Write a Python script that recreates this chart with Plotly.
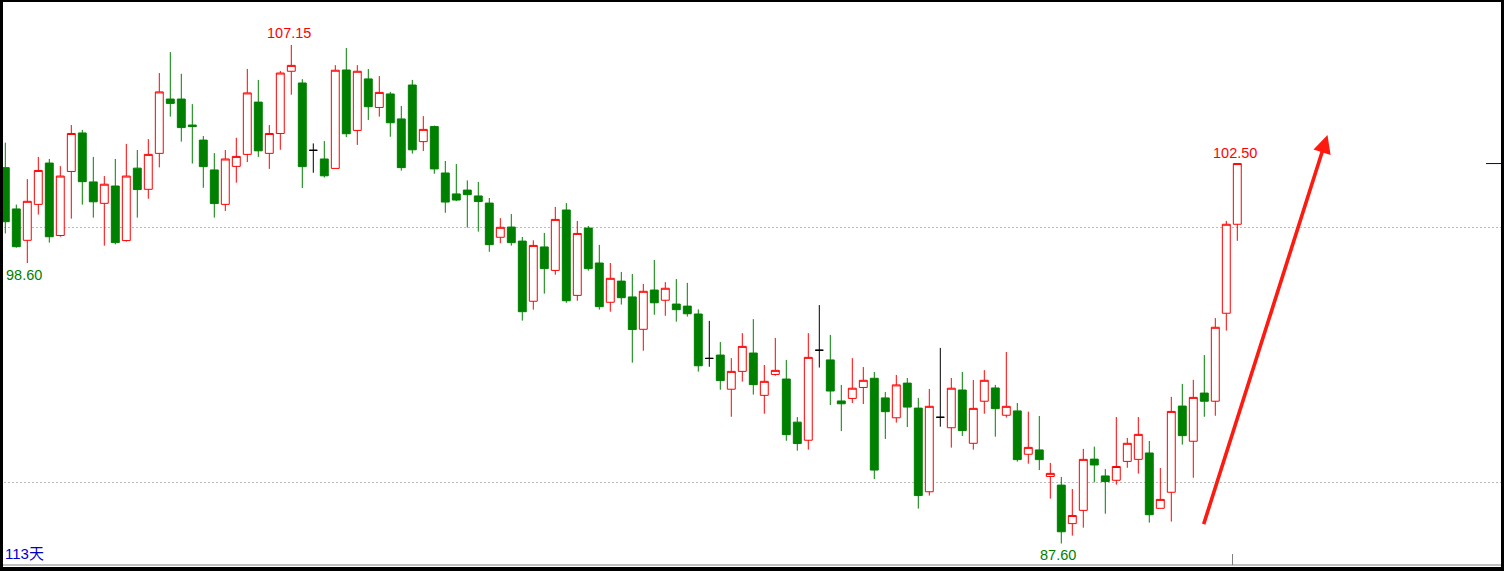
import plotly.graph_objects as go

# ---- data ----
opens = [102.34, 100.72, 99.49, 100.90, 102.52, 99.68, 102.19, 103.70, 101.78, 100.94,
         101.62, 99.48, 102.32, 101.49, 102.90, 105.03, 105.03, 104.01, 103.42, 102.25,
         100.90, 102.39, 102.86, 104.91, 102.90, 103.68, 106.12, 105.66, 103.02, 102.68,
         102.31, 106.17, 103.80, 105.82, 104.70, 105.23, 104.25, 105.58, 103.36, 103.95,
         102.13, 101.31, 101.46, 101.23, 100.95, 99.61, 100.01, 99.46, 97.10, 99.23,
         98.31, 100.68, 97.33, 99.97, 98.60, 97.06, 97.89, 97.27, 96.00, 97.54,
         97.14, 96.99, 96.91, 96.60, 94.86, 94.99, 93.65, 94.35, 95.07, 93.41,
         94.23, 94.05, 92.36, 91.65, 95.18, 94.80, 93.19, 93.29, 93.72, 94.08,
         93.31, 92.53, 93.89, 92.91, 89.63, 92.55, 92.14, 93.62, 91.53, 93.18,
         93.70, 92.63, 92.80, 91.10, 91.27, 90.23, 89.89, 88.38, 88.90, 90.91,
         90.25, 90.08, 90.82, 90.90, 91.15, 88.98, 89.61, 92.99, 91.61, 93.50,
         93.18, 96.63, 100.12]
highs = [103.32, 100.89, 101.89, 102.76, 102.68, 102.40, 104.01, 103.82, 102.76, 102.01,
         102.68, 103.27, 103.03, 103.46, 106.05, 106.87, 106.02, 104.83, 103.58, 102.91,
         103.03, 103.51, 106.21, 105.78, 104.01, 106.13, 107.15, 105.81, 103.29, 103.38,
         106.36, 107.03, 106.36, 106.21, 105.93, 105.31, 104.76, 105.78, 104.36, 103.99,
         102.60, 102.48, 101.84, 101.78, 101.15, 100.36, 100.52, 99.62, 99.49, 99.78,
         100.80, 100.95, 100.25, 100.05, 99.31, 98.60, 98.25, 98.17, 97.78, 98.72,
         97.85, 97.97, 97.82, 96.78, 96.33, 95.50, 94.87, 95.85, 96.40, 94.60,
         95.66, 94.80, 92.56, 95.85, 96.95, 95.78, 93.82, 94.87, 94.52, 94.33,
         93.54, 94.21, 94.09, 93.31, 93.66, 95.27, 94.09, 94.33, 94.01, 94.40,
         93.82, 95.11, 93.11, 92.77, 92.60, 90.76, 90.21, 89.74, 91.31, 91.40,
         90.52, 92.56, 91.74, 92.56, 91.62, 90.56, 93.35, 93.86, 94.02, 94.99,
         96.44, 100.25, 102.50]
lows = [99.76, 99.20, 98.60, 100.50, 99.40, 99.63, 100.34, 100.89, 100.38, 99.28,
        99.33, 99.44, 100.38, 101.12, 102.35, 104.34, 103.36, 102.50, 101.55, 100.38,
        100.64, 101.75, 102.56, 102.76, 102.29, 103.04, 105.20, 101.54, 102.14, 101.95,
        102.31, 103.54, 103.23, 104.21, 104.34, 103.55, 102.22, 102.89, 102.99, 102.10,
        100.57, 101.03, 99.99, 99.83, 99.04, 99.38, 99.28, 96.34, 96.77, 97.40,
        98.14, 97.04, 97.12, 98.30, 96.77, 96.69, 96.97, 94.69, 95.16, 96.57,
        96.53, 96.30, 96.50, 94.34, 94.53, 93.63, 92.57, 93.95, 93.44, 92.69,
        94.18, 91.63, 91.24, 91.28, 94.50, 93.03, 92.01, 93.11, 93.07, 90.13,
        91.70, 92.34, 92.17, 88.97, 89.48, 92.18, 91.36, 91.82, 91.28, 92.69,
        91.79, 92.54, 90.81, 90.73, 90.48, 89.36, 87.60, 87.91, 88.22, 90.00,
        88.77, 89.91, 90.57, 90.34, 88.42, 88.98, 88.46, 91.48, 90.18, 92.57,
        92.61, 95.95, 99.47]
closes = [100.22, 99.24, 101.02, 102.23, 99.63, 102.01, 103.68, 101.79, 101.00, 101.69,
          99.40, 102.01, 101.48, 102.86, 105.31, 104.86, 103.91, 103.95, 102.38, 100.93,
          102.68, 102.78, 105.27, 103.00, 103.68, 106.05, 106.35, 102.38, 103.02, 102.02,
          106.16, 103.67, 106.12, 104.73, 105.29, 104.10, 102.34, 103.04, 103.84, 102.29,
          100.99, 101.07, 101.28, 101.01, 99.32, 100.00, 99.40, 96.69, 99.29, 98.38,
          100.31, 97.12, 99.76, 98.38, 96.89, 98.00, 97.24, 95.99, 97.49, 97.04,
          97.61, 96.77, 96.61, 94.57, 94.86, 93.99, 94.35, 95.33, 93.83, 93.96,
          94.39, 91.87, 91.52, 94.90, 95.18, 93.58, 93.08, 93.69, 94.00, 90.48,
          92.77, 93.82, 92.95, 89.48, 92.98, 92.55, 93.69, 92.03, 92.90, 94.00,
          92.89, 92.98, 90.89, 91.37, 90.89, 90.35, 88.06, 88.70, 90.90, 90.68,
          90.03, 90.62, 91.53, 91.88, 88.73, 89.33, 92.78, 91.83, 93.33, 93.18,
          96.08, 100.12, 102.50]
# colour of the dark candles: a plain green; doji crosses in black
days = list(range(len(opens)))
day_label = f"{len(days)}天"

RED = "#FF0000"
GREEN = "#008000"
BLACK = "#000000"

def subset(cond):
    idx = [i for i in days if cond(opens[i], closes[i])]
    return (idx, [opens[i] for i in idx], [highs[i] for i in idx],
            [lows[i] for i in idx], [closes[i] for i in idx])

groups = [
    (lambda o, c: c > o, RED, "white"),
    (lambda o, c: c < o, GREEN, GREEN),
    (lambda o, c: c == o, BLACK, BLACK),
]

fig = go.Figure()
for cond, lc, fc in groups:
    x, o, h, l, c = subset(cond)
    fig.add_trace(go.Candlestick(
        x=x, open=o, high=h, low=l, close=c,
        increasing=dict(line=dict(color=lc, width=1), fillcolor=fc),
        decreasing=dict(line=dict(color=lc, width=1), fillcolor=fc),
        whiskerwidth=0, hoverinfo="skip", showlegend=False,
    ))

# labels of extreme values
i_max = max(days, key=lambda i: highs[i])
i_min = min(days, key=lambda i: lows[i])
i_left_min = min(days[:20], key=lambda i: lows[i])
i_last = days[-1]
lab_font = dict(family="Liberation Sans, Arial, sans-serif", size=14.5)
fig.add_annotation(x=i_max, y=highs[i_max], text=f"{highs[i_max]:.2f}", showarrow=False,
                   yanchor="middle", yshift=12, xshift=-2, font=dict(color=RED, **lab_font))
fig.add_annotation(x=i_last, y=highs[i_last], text=f"{highs[i_last]:.2f}", showarrow=False,
                   yanchor="middle", yshift=11, xshift=-2.5, font=dict(color=RED, **lab_font))
fig.add_annotation(x=i_left_min, y=lows[i_left_min], text=f"{lows[i_left_min]:.2f}", showarrow=False,
                   yanchor="middle", yshift=-11.5, xshift=-3, font=dict(color=GREEN, **lab_font))
fig.add_annotation(x=i_min, y=lows[i_min], text=f"{lows[i_min]:.2f}", showarrow=False,
                   yanchor="middle", yshift=-11, xshift=-3, font=dict(color=GREEN, **lab_font))
fig.add_annotation(xref="paper", yref="paper", x=3 / 1504, y=(571 - 553) / 571, text=day_label,
                   showarrow=False, xanchor="left", yanchor="middle",
                   font=dict(family="Liberation Sans, Noto Sans CJK SC, sans-serif", size=15, color="#0000C8"))

# red trend arrow
fig.add_annotation(x=120.2, y=103.62, ax=108.9, ay=88.30, xref="x", yref="y", axref="x", ayref="y",
                   text="", showarrow=True, arrowhead=2, arrowsize=1, arrowwidth=3.6,
                   arrowcolor="#FF1A10", standoff=0, startstandoff=0)

# last price tick on the right edge
fig.add_shape(type="line", xref="paper", yref="y", x0=1486 / 1504, x1=1501 / 1504,
              y0=closes[-1], y1=closes[-1], line=dict(color="#000080", width=1))
# bottom gray line and small tick
fig.add_shape(type="line", xref="paper", yref="paper", x0=0, x1=1, y0=6 / 571, y1=6 / 571,
              line=dict(color="#808080", width=1))
fig.add_shape(type="line", xref="paper", yref="paper", x0=1232.5 / 1504, x1=1232.5 / 1504,
              y0=6 / 571, y1=17 / 571, line=dict(color="#808080", width=1))
# black frame
for x0, x1, y0, y1 in [(0, 3 / 1504, 0, 1), (1501 / 1504, 1, 0, 1),
                       (0, 1, 0, 4 / 571), (0, 1, 1 - 2 / 571, 1)]:
    fig.add_shape(type="rect", xref="paper", yref="paper", x0=x0, x1=x1, y0=y0, y1=y1,
                  line=dict(width=0), fillcolor="black", layer="above")

fig.update_layout(
    width=1504, height=571, margin=dict(l=0, r=0, t=0, b=0, pad=0),
    plot_bgcolor="white", paper_bgcolor="white", showlegend=False,
    boxgap=0.28, boxgroupgap=0, boxmode="overlay",
    xaxis=dict(range=[-0.4818, 136.245], visible=False, rangeslider=dict(visible=False),
               showgrid=False, zeroline=False, fixedrange=True),
    yaxis=dict(range=[86.522, 108.914], showticklabels=False, ticks="", zeroline=False,
               showline=False, tickvals=[90, 100], showgrid=True, gridcolor="#BBBBBB",
               griddash="2px,2px", gridwidth=1, fixedrange=True),
)

fig.write_html("out.html", config={"displayModeBar": False},
               post_script="document.body.style.margin='0';document.body.style.overflow='hidden';")
